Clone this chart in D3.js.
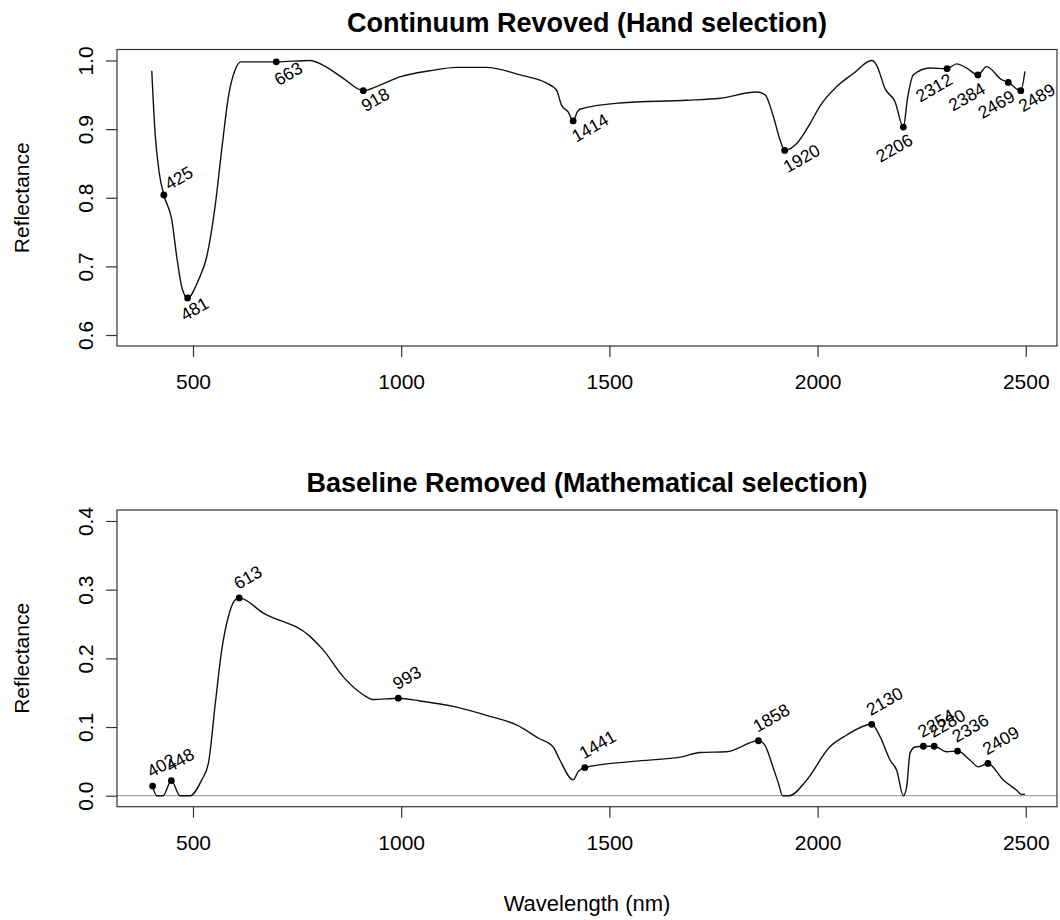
<!DOCTYPE html>
<html>
<head>
<meta charset="utf-8">
<script src="https://cdn.jsdelivr.net/npm/d3@7"></script>
<style>
  body { margin:0; background:#fff; }
  text { font-family: "Liberation Sans", Arial, sans-serif; fill:#000; }
</style>
</head>
<body>
<svg id="chart" width="1060" height="920"></svg>
<script>
// ---------- DATA ----------
// Top panel: continuum removed spectrum
const topWavelength = [401,409,419,430,449,461,473,487,513,533,553,569,585,601,615,700,781,813,861,909,941,997,1069,1133,1205,1285,1349,1373,1385,1401,1413,1423,1429,1525,1685,1766,1854,1874,1894,1910,1921,1950,1982,2006,2046,2086,2130,2142,2162,2186,2206,2216,2230,2270,2311,2334,2358,2385,2406,2442,2458,2488,2498];
const topReflectance = [0.985,0.894,0.836,0.804,0.768,0.714,0.670,0.654,0.680,0.714,0.787,0.870,0.947,0.986,0.998,0.998,1.000,0.993,0.974,0.956,0.962,0.976,0.985,0.990,0.990,0.979,0.967,0.957,0.935,0.925,0.912,0.925,0.929,0.938,0.942,0.945,0.954,0.950,0.918,0.884,0.869,0.879,0.908,0.934,0.962,0.981,1.000,0.993,0.959,0.940,0.903,0.945,0.979,0.989,0.988,0.995,0.989,0.979,0.991,0.972,0.968,0.956,0.984];
const topPointWl    = [430,487,700,909,1413,1921,2206,2311,2385,2458,2488];
const topPointRefl  = [0.804,0.654,0.998,0.956,0.912,0.869,0.903,0.988,0.979,0.968,0.956];
const topPointLabel = ["425","481","663","918","1414","1920","2206","2312","2384","2469","2489"];

// Bottom panel: baseline removed spectrum
const botWavelength = [403,413,428,448,469,493,521,537,553,569,585,601,611,669,781,813,861,909,933,993,1045,1125,1205,1277,1329,1365,1381,1413,1425,1441,1557,1677,1717,1781,1858,1874,1890,1906,1916,1932,1974,2029,2069,2130,2150,2174,2190,2206,2214,2222,2234,2254,2280,2310,2336,2366,2386,2409,2446,2478,2490,2498];
const botReflectance = [0.014,0.0,0.0,0.022,0.0,0.0,0.023,0.047,0.131,0.212,0.261,0.285,0.288,0.266,0.232,0.212,0.173,0.147,0.140,0.142,0.138,0.130,0.117,0.103,0.084,0.071,0.052,0.023,0.035,0.041,0.050,0.057,0.063,0.064,0.080,0.073,0.047,0.018,0.0,0.0,0.023,0.071,0.088,0.104,0.086,0.052,0.037,0.0,0.013,0.062,0.071,0.072,0.072,0.064,0.065,0.052,0.042,0.047,0.023,0.008,0.002,0.002];
const botPointWl    = [403,448,611,993,1441,1858,2130,2254,2280,2336,2409];
const botPointRefl  = [0.014,0.022,0.288,0.142,0.041,0.080,0.104,0.072,0.072,0.065,0.047];
const botPointLabel = ["402","448","613","993","1441","1858","2130","2254","2280","2336","2409"];

const xTicks = [500,1000,1500,2000,2500];
const topYTicks = [0.6,0.7,0.8,0.9,1.0];
const botYTicks = [0.0,0.1,0.2,0.3,0.4];

// label placement for top panel (pixel offsets of label centre from point)
const topLabelDx = [15,7,12,12,17,17,-9,-13,-11,-12,16];
const topLabelDy = [-17,11,12,9,7,8,21,19,22,22,7];

// ---------- DRAW ----------
const svg = d3.select("#chart");
svg.append("rect").attr("width",1060).attr("height",920).attr("fill","#fff");

const x = d3.scaleLinear().domain([317.5,2575]).range([117,1057]);

function panel(opts){
  const y = d3.scaleLinear().domain(opts.ydom).range([opts.bottom, opts.top]);
  const g = svg.append("g");
  if (opts.zeroLine){
    g.append("line").attr("x1",117).attr("x2",1057)
      .attr("y1",y(0)).attr("y2",y(0))
      .attr("stroke","#a8a8a8").attr("stroke-width",1.2);
  }
  g.append("rect").attr("x",117).attr("y",opts.top)
    .attr("width",1057-117).attr("height",opts.bottom-opts.top)
    .attr("fill","none").attr("stroke","#333").attr("stroke-width",1.2);
  const xa = g.append("g").attr("transform",`translate(0,${opts.bottom})`)
    .call(d3.axisBottom(x).tickValues(xTicks).tickSize(11).tickPadding(17).tickFormat(d3.format("d")));
  xa.select(".domain").remove();
  xa.selectAll(".tick line").attr("stroke","#333").attr("stroke-width",1.2);
  xa.selectAll(".tick text").attr("font-size",21).attr("font-family","Liberation Sans, Arial, sans-serif").attr("fill","#000");
  const ya = g.append("g").attr("transform",`translate(117,0)`)
    .call(d3.axisLeft(y).tickValues(opts.yticks).tickSize(11).tickFormat(d3.format(".1f")));
  ya.select(".domain").remove();
  ya.selectAll(".tick line").attr("stroke","#333").attr("stroke-width",1.2);
  ya.selectAll(".tick text")
    .attr("font-size",21).attr("font-family","Liberation Sans, Arial, sans-serif").attr("fill","#000")
    .attr("text-anchor","middle").attr("dy",null).attr("x",null)
    .attr("transform","translate(-32,0) rotate(-90)")
    .attr("dominant-baseline","central");
  g.append("text").attr("transform",`translate(29,${(opts.top+opts.bottom)/2}) rotate(-90)`)
    .attr("text-anchor","middle").attr("font-size",21).text("Reflectance");
  g.append("text").attr("x",587).attr("y",opts.top-18).attr("text-anchor","middle")
    .attr("font-size",27).attr("font-weight","bold").text(opts.title);
  const line = d3.line().x(d=>x(d[0])).y(d=>y(d[1])).curve(d3.curveMonotoneX);
  g.append("path").datum(d3.zip(opts.wl, opts.refl))
    .attr("d",line).attr("fill","none").attr("stroke","#111").attr("stroke-width",1.4);
  const pts = d3.zip(opts.pwl, opts.prefl, opts.plab);
  g.selectAll("circle.p").data(pts).join("circle")
    .attr("cx",d=>x(d[0])).attr("cy",d=>y(d[1])).attr("r",3.4).attr("fill","#000");
  g.selectAll("text.lab").data(pts).join("text").attr("class","lab")
    .attr("font-size",17.5)
    .each(function(d,i){
      const el = d3.select(this);
      if (opts.labelMode === "center"){
        const cx = x(d[0]) + opts.ldx[i], cy = y(d[1]) + opts.ldy[i];
        el.attr("text-anchor","middle").attr("dominant-baseline","central")
          .attr("transform",`translate(${cx},${cy}) rotate(-30)`);
      } else {
        el.attr("text-anchor","start")
          .attr("transform",`translate(${x(d[0])-1},${y(d[1])-8}) rotate(-30)`);
      }
    })
    .text(d=>d[2]);
  return y;
}

panel({
  top:49.5, bottom:346, ydom:[0.584,1.016], yticks:topYTicks,
  title:"Continuum Revoved (Hand selection)",
  wl:topWavelength, refl:topReflectance,
  pwl:topPointWl, prefl:topPointRefl, plab:topPointLabel,
  labelMode:"center", ldx:topLabelDx, ldy:topLabelDy
});
panel({
  top:510, bottom:806.7, ydom:[-0.016,0.416], yticks:botYTicks,
  title:"Baseline Removed (Mathematical selection)",
  wl:botWavelength, refl:botReflectance,
  pwl:botPointWl, prefl:botPointRefl, plab:botPointLabel,
  labelMode:"above", zeroLine:true
});

svg.append("text").attr("x",587).attr("y",911).attr("text-anchor","middle")
  .attr("font-size",22).text("Wavelength (nm)");
</script>
</body>
</html>
